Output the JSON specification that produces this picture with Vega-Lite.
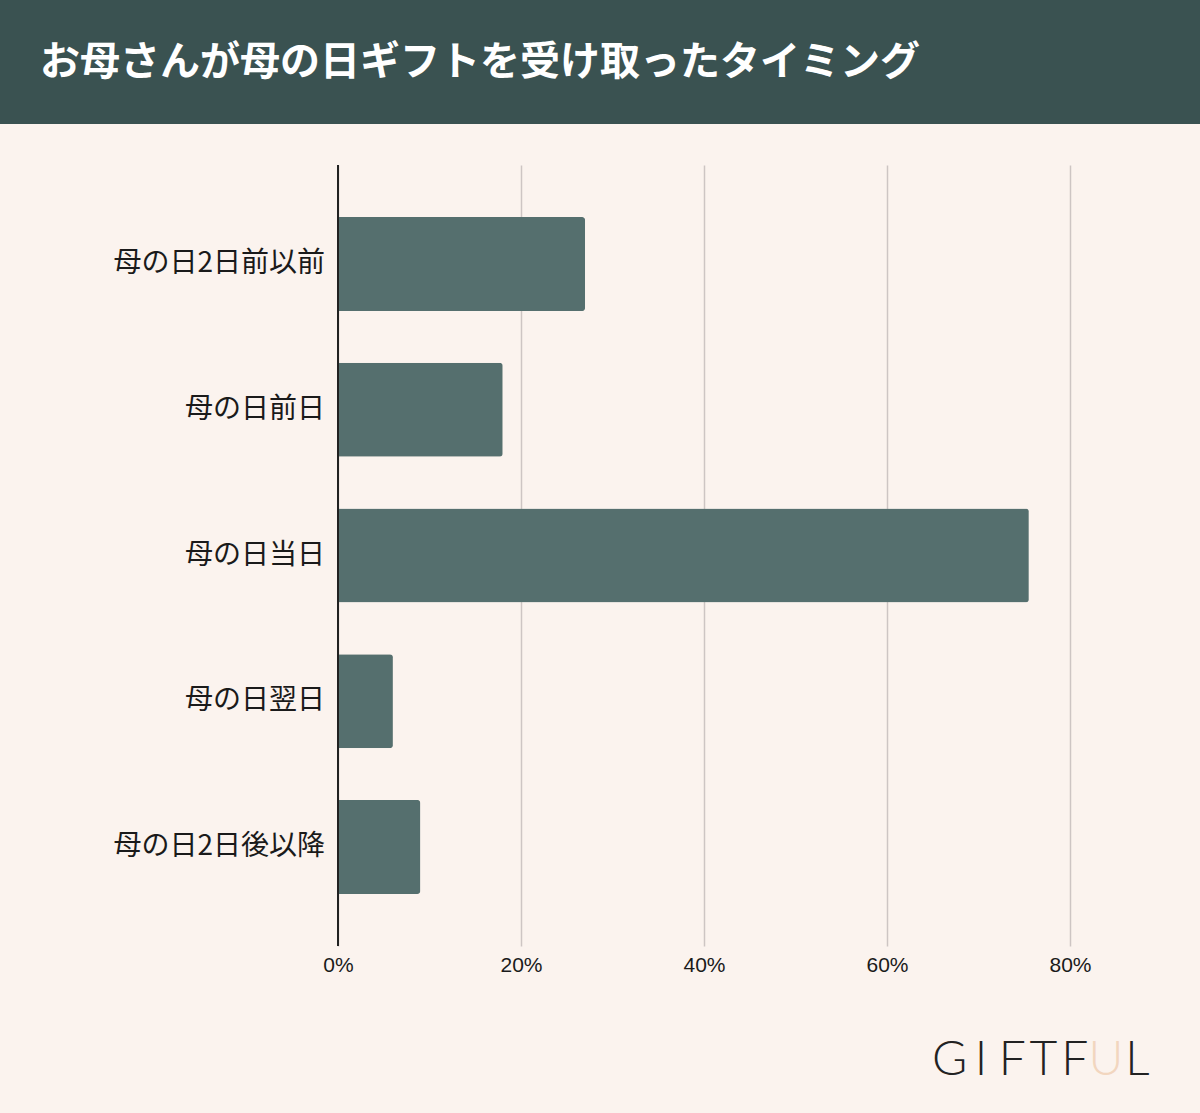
{
  "$schema": "https://vega.github.io/schema/vega-lite/v6.json",
  "background": "#fbf3ee",
  "padding": 0,
  "spacing": 40,
  "config": {"view": {"stroke": null}},
  "vconcat": [
    {
      "width": 1200,
      "height": 124,
      "view": {"fill": "#3a5251", "stroke": null},
      "data": {"values": [{"title": "お母さんが母の日ギフトを受け取ったタイミング", "pos": 0}]},
      "mark": {"type": "text", "align": "left", "baseline": "middle", "dx": 40, "dy": 1, "color": "#ffffff", "font": "Noto Sans CJK JP", "fontWeight": "bold", "fontSize": 40},
      "encoding": {
        "x": {"field": "pos", "type": "quantitative", "scale": {"domain": [0, 1]}, "axis": null},
        "text": {"field": "title"}
      }
    },
    {
      "width": 1200,
      "height": 781,
      "data": {"values": [
        {"timing": "母の日2日前以前", "share": 0.27},
        {"timing": "母の日前日", "share": 0.18},
        {"timing": "母の日当日", "share": 0.755},
        {"timing": "母の日翌日", "share": 0.06},
        {"timing": "母の日2日後以降", "share": 0.09}
      ]},
      "encoding": {
        "y": {"field": "timing", "type": "nominal", "sort": null,
          "scale": {"paddingInner": 0.355, "paddingOuter": 0.357},
          "axis": null}
      },
      "layer": [
        {
          "mark": {"type": "bar", "color": "#556f6e", "cornerRadiusEnd": 3},
          "encoding": {
            "x": {"field": "share", "type": "quantitative",
              "scale": {"domain": [0, 0.8], "nice": false, "range": [338, 1070]},
              "axis": {"title": null, "format": ".0%", "values": [0, 0.2, 0.4, 0.6, 0.8], "ticks": false, "domain": false, "grid": true, "gridColor": "#cdc5c3", "gridWidth": 1.5, "labelFont": "Liberation Sans", "labelFontSize": 21, "labelColor": "#1a1a1a", "labelPadding": 8, "labelFlush": false}}
          }
        },
        {
          "mark": {"type": "rule", "color": "#222222", "strokeWidth": 1.5},
          "encoding": {"x": {"datum": 0}, "y": null}
        },
        {
          "mark": {"type": "text", "align": "right", "baseline": "middle", "dx": -13, "font": "Noto Sans CJK JP", "fontSize": 28, "color": "#1a1a1a"},
          "encoding": {"x": {"datum": 0}, "text": {"field": "timing"}}
        }
      ]
    },
    {
      "width": 1200,
      "height": 101,
      "data": {"values": [
        {"i": 0, "ch": "G", "part": "dark"},
        {"i": 1, "ch": "I", "part": "dark"},
        {"i": 2, "ch": "F", "part": "dark"},
        {"i": 3, "ch": "T", "part": "dark"},
        {"i": 4, "ch": "F", "part": "dark"},
        {"i": 5, "ch": "U", "part": "accent"},
        {"i": 6, "ch": "L", "part": "dark"}
      ]},
      "mark": {"type": "text", "align": "center", "baseline": "middle", "dy": -5, "font": "Lato", "fontWeight": 300, "fontSize": 48},
      "encoding": {
        "x": {"field": "i", "type": "ordinal", "scale": {"type": "point", "range": [934, 1153]}, "axis": null},
        "text": {"field": "ch"},
        "color": {"field": "part", "type": "nominal", "scale": {"domain": ["dark", "accent"], "range": ["#222222", "#f2d6bf"]}, "legend": null}
      }
    }
  ]
}
